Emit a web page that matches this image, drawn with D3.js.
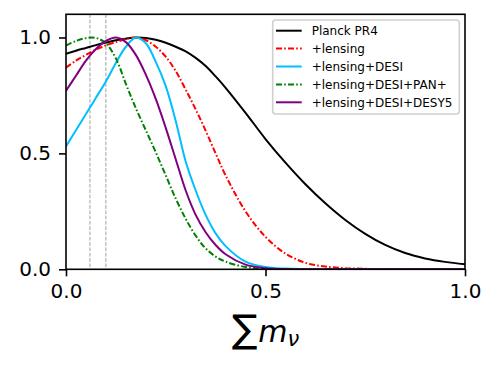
<!DOCTYPE html>
<html>
<head>
<meta charset="utf-8">
<script src="https://cdn.jsdelivr.net/npm/d3@7"></script>
<style>
  body { margin: 0; background: #fff; }
  svg text { font-family: "DejaVu Sans", sans-serif; }
</style>
</head>
<body>
<svg id="chart" width="499" height="366"></svg>
<script>
// sum of neutrino masses grid (eV)
const mnu = [0, 0.025, 0.05, 0.075, 0.1, 0.125, 0.15, 0.175, 0.2, 0.225, 0.25, 0.275, 0.3, 0.325,
  0.35, 0.375, 0.4, 0.45, 0.5, 0.55, 0.6, 0.65, 0.7, 0.75, 0.8, 0.85, 0.9, 0.95, 1.0];

// normalised posteriors
const planckPR4 = [0.93, 0.943, 0.955, 0.967, 0.978, 0.988, 0.995, 1.0, 0.998, 0.99, 0.977, 0.96, 0.94, 0.912,
  0.877, 0.832, 0.783, 0.675, 0.562, 0.46, 0.367, 0.285, 0.213, 0.153, 0.105, 0.07, 0.047, 0.032, 0.022];
const lensing = [0.87, 0.9, 0.925, 0.948, 0.966, 0.98, 0.993, 1.0, 0.988, 0.96, 0.917, 0.855, 0.775, 0.69,
  0.598, 0.5, 0.405, 0.25, 0.14, 0.068, 0.028, 0.012, 0.005, 0.002, 0.001, 0, 0, 0, 0];
const lensingDesi = [0.53, 0.6, 0.67, 0.74, 0.81, 0.89, 0.96, 1.0, 0.975, 0.895, 0.79, 0.64, 0.465, 0.34,
  0.235, 0.155, 0.1, 0.033, 0.01, 0.003, 0.001, 0, 0, 0, 0, 0, 0, 0, 0];
const lensingDesiPan = [0.965, 0.985, 0.997, 0.998, 0.975, 0.91, 0.8, 0.695, 0.6, 0.505, 0.405, 0.305, 0.218, 0.145,
  0.09, 0.055, 0.033, 0.01, 0.002, 0, 0, 0, 0, 0, 0, 0, 0, 0, 0];
const lensingDesiDes = [0.77, 0.835, 0.9, 0.95, 0.985, 1.0, 0.98, 0.925, 0.84, 0.735, 0.61, 0.475, 0.34, 0.235,
  0.16, 0.105, 0.065, 0.02, 0.005, 0.001, 0, 0, 0, 0, 0, 0, 0, 0, 0];

const seriesNames = ["Planck PR4", "+lensing", "+lensing+DESI", "+lensing+DESI+PAN+", "+lensing+DESI+DESY5"];
const seriesValues = [planckPR4, lensing, lensingDesi, lensingDesiPan, lensingDesiDes];
const seriesColors = ["#000000", "#ff0000", "#00bfff", "#008000", "#800080"];
const seriesDashed = [false, true, false, true, false];

const refLines = [0.06, 0.1];
const xTicks = [0, 0.5, 1.0];
const yTicks = [0, 0.5, 1.0];

const svg = d3.select("#chart");
const W = 499, H = 366;
const m = { left: 66, right: 34, top: 14.3, bottom: 96.7 };

const x = d3.scaleLinear().domain([0, 1]).range([m.left, W - m.right]);
const y = d3.scaleLinear().domain([0, 1.1]).range([H - m.bottom, m.top]);

svg.append("defs").append("clipPath").attr("id", "plotclip")
  .append("rect")
  .attr("x", m.left).attr("y", m.top)
  .attr("width", W - m.left - m.right).attr("height", H - m.top - m.bottom);

const plot = svg.append("g").attr("clip-path", "url(#plotclip)");

// reference masses
plot.selectAll("line.ref")
  .data(refLines)
  .enter().append("line")
  .attr("class", "ref")
  .attr("x1", d => x(d)).attr("x2", d => x(d))
  .attr("y1", m.top).attr("y2", H - m.bottom)
  .attr("stroke", "#a0a0a0")
  .attr("stroke-width", 1)
  .attr("stroke-dasharray", "3.7,1.6");

const dashDot = "6,2.2,1.6,2.2";

const line = d3.line()
  .x((d, i) => x(mnu[i]))
  .y(d => y(d))
  .curve(d3.curveCatmullRom.alpha(0.5));

plot.selectAll("path.curve")
  .data(seriesValues)
  .enter().append("path")
  .attr("class", "curve")
  .attr("d", d => line(d))
  .attr("fill", "none")
  .attr("stroke", (d, i) => seriesColors[i])
  .attr("stroke-width", 2)
  .attr("stroke-dasharray", (d, i) => seriesDashed[i] ? dashDot : null);

// axes
const xAxis = svg.append("g")
  .attr("transform", `translate(0,${H - m.bottom})`)
  .call(d3.axisBottom(x).tickValues(xTicks).tickFormat(d3.format(".1f"))
    .tickSize(7).tickSizeOuter(0).tickPadding(8));
const yAxis = svg.append("g")
  .attr("transform", `translate(${m.left},0)`)
  .call(d3.axisLeft(y).tickValues(yTicks).tickFormat(d3.format(".1f"))
    .tickSize(7).tickSizeOuter(0).tickPadding(8));

[xAxis, yAxis].forEach(g => {
  g.select(".domain").remove();
  g.selectAll(".tick line").attr("stroke", "#000").attr("stroke-width", 1.6);
  g.selectAll(".tick text").attr("font-size", 20).attr("fill", "#000")
    .attr("font-family", "DejaVu Sans");
});

// frame
svg.append("rect")
  .attr("x", m.left).attr("y", m.top)
  .attr("width", W - m.left - m.right).attr("height", H - m.top - m.bottom)
  .attr("fill", "none").attr("stroke", "#000").attr("stroke-width", 1.6);

// x label: sum of m_nu
const lab = svg.append("text")
  .attr("x", 265.5).attr("y", 342)
  .attr("text-anchor", "middle")
  .attr("fill", "#000");
lab.append("tspan").attr("font-size", 38).attr("dy", 0).text("\u2211");
lab.append("tspan").attr("font-size", 30).attr("font-style", "italic").attr("dx", 1).text("m");
lab.append("tspan").attr("font-size", 21).attr("font-style", "italic").attr("dy", 4).text("\u03bd");

// legend
const legend = svg.append("g").attr("transform", "translate(272.7,20)");
legend.append("rect")
  .attr("width", 186.6).attr("height", 94).attr("rx", 3)
  .attr("fill", "#fff").attr("fill-opacity", 0.8)
  .attr("stroke", "#d0d0d0").attr("stroke-width", 1.6);

const item = legend.selectAll("g.item")
  .data(seriesNames)
  .enter().append("g")
  .attr("class", "item")
  .attr("transform", (d, i) => `translate(0,${10.7 + i * 17.9})`);

item.append("line")
  .attr("x1", 3.3).attr("x2", 29)
  .attr("stroke", (d, i) => seriesColors[i])
  .attr("stroke-width", 2)
  .attr("stroke-dasharray", (d, i) => seriesDashed[i] ? dashDot : null);

item.append("text")
  .attr("x", 39).attr("dy", "0.35em")
  .attr("font-size", 12)
  .attr("fill", "#000")
  .text(d => d);
</script>
</body>
</html>
